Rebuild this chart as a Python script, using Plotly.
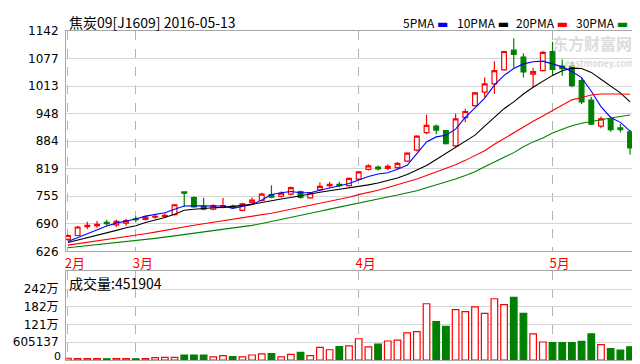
import plotly.graph_objects as go

# ---------------- data ----------------
idx = list(range(59))
open_ = [654, 663, 684, 686, 694, 688, 692, 702, 701, 706, 708, 712, 765, 752, 732, 725, 729, 732, 722, 740,
         745, 759, 755, 760, 766, 751, 770, 780, 783, 780, 795, 818, 823, 820, 822, 837, 863, 904, 919, 909,
         873, 939, 967, 999, 1018, 1051, 1097, 1081, 1041, 1049, 1094, 1060, 1060, 1026, 980, 919, 936, 915, 906]
high = [666, 685, 695, 697, 700, 700, 702, 708, 709, 713, 715, 737, 766, 755, 751, 736, 751, 735, 740, 752,
        763, 781, 766, 778, 768, 765, 788, 789, 789, 799, 814, 830, 827, 830, 835, 858, 898, 946, 923, 911,
        949, 960, 999, 1033, 1071, 1096, 1125, 1090, 1056, 1095, 1117, 1075, 1068, 1033, 988, 942, 942, 924, 910]
low = [650, 662, 678, 681, 686, 683, 686, 694, 698, 702, 704, 710, 730, 728, 722, 722, 727, 726, 720, 737,
       743, 750, 752, 757, 749, 749, 767, 775, 776, 778, 793, 815, 815, 816, 819, 835, 860, 900, 900, 876,
       869, 928, 965, 987, 995, 1049, 1056, 1033, 1010, 1047, 1037, 1037, 1010, 971, 922, 914, 906, 904, 853]
close = [663, 683, 687, 689, 691, 696, 698, 700, 706, 708, 710, 735, 762, 730, 725, 733, 733, 729, 737, 746,
         760, 753, 762, 775, 752, 763, 778, 783, 780, 797, 812, 826, 819, 825, 832, 856, 896, 921, 910, 878,
         936, 953, 997, 1018, 1049, 1094, 1087, 1046, 1047, 1092, 1052, 1054, 1014, 976, 924, 936, 911, 911, 868]
volume = [60000, 50000, 50000, 50000, 40000, 50000, 50000, 40000, 50000, 80000, 90000, 90000,
          170000, 170000, 170000, 110000, 150000, 120000, 110000, 170000, 210000, 220000, 110000, 190000,
          260000, 150000, 430000, 350000, 459000, 482000, 725000, 449000, 539000, 648000, 681000, 924000,
          971000, 1920000, 1310000, 1150000, 1720000, 1650000, 1810000, 1590000, 2090000, 1890000,
          2140000, 1590000, 891000, 615000, 592000, 592000, 592000, 637000, 891000, 526000, 393000,
          339000, 451904]

ma5 = [649, 658, 667, 676, 685.5, 692, 697, 701.6, 708.4, 713, 716.4, 724.4, 732, 732.5, 732.5, 732, 732,
       726.7, 731, 736, 746, 759, 763, 766, 763, 763, 769, 775, 779.4, 785, 793, 801, 807, 810, 818, 827.4,
       855, 882, 894, 898, 912, 939.5, 962, 985, 1015, 1038, 1054, 1065, 1070, 1071.5, 1065, 1058, 1047,
       1033, 1001, 965, 939.5, 928, 907.5]
ma10 = [646.6, 652, 658, 664, 669.5, 675, 681, 686, 693.5, 699, 705, 713, 722, 724.4, 726.7, 728, 729, 731.3,
        733.6, 736, 740.5, 745, 748.5, 752, 756.5, 760, 764.5, 768, 771.5, 773.6, 777, 781.6, 786, 791, 797.7,
        805.7, 816, 827, 841, 855, 869, 882, 898, 919, 939.5, 960, 976, 994.4, 1010.4, 1024, 1038, 1049,
        1055, 1054, 1045, 1029, 1013, 997, 976]
ma20 = [640.5, 643.7, 647, 650.3, 653.5, 657, 660.4, 663.4, 667.2, 671, 675.3, 679.2, 683.3, 687.2, 690.6,
        694, 697.5, 701, 704.3, 707.7, 710.7, 715.3, 720, 724.4, 729, 733.6, 738.2, 742.8, 747.3, 752.6,
        758.8, 763.3, 769, 775.5, 781.6, 788.5, 795.4, 803.4, 811.4, 819.4, 828.5, 839, 850.3, 861.7, 876.6,
        890.4, 903, 916.6, 930.4, 943, 955.5, 969.3, 980.7, 986.4, 992, 994.4, 995, 994.4, 993.7]
ma30 = [634.5, 636.8, 639.1, 641.4, 643.7, 646, 648.2, 650.5, 653.5, 656.3, 659.2, 662.2, 665.4, 668.4,
        671.4, 674.6, 677.5, 680.5, 683.7, 686.7, 691.3, 695.8, 700.6, 705.4, 710.2, 715.3, 719.9, 724.9,
        729.9, 735, 739.5, 744.1, 748.7, 753.3, 757.8, 762.6, 767.9, 774.8, 781.6, 787.4, 795.4, 803.4,
        812.5, 824, 835.4, 846.8, 857.1, 870.9, 882.3, 891.5, 902.9, 912, 920, 925.8, 930.4, 935, 938.4,
        941.8, 945.2]

month_pos = [0, 7, 30, 50]
month_labels = ["2月", "3月", "4月", "5月"]
price_ticks = [626, 690.5, 755, 819.5, 884, 948.5, 1013, 1077.5, 1142]
price_tick_labels = ["626", "690", "755", "819", "884", "948", "1013", "1077", "1142"]
vol_ticks = [605137, 1210274, 1815411, 2420548]
vol_tick_labels = ["605137", "121万", "182万", "242万"]
vol_zero_label = "0"
ma_names = ["5PMA", "10PMA", "20PMA", "30PMA"]
ma_colors = ["#0000ff", "#000000", "#ff0000", "#008000"]

title_text = "焦炭09[J1609] 2016-05-13"
vol_label = "成交量:451904"

RED = "#ff0000"
GREEN = "#008000"
GRID = "#d4d4d4"
VGRID = "#b4b4b4"
FRAME = "#a8a8a8"
FONT = "Noto Sans CJK SC, Noto Sans, DejaVu Sans"
NUMFONT = "DejaVu Sans, Noto Sans CJK SC"

fig = go.Figure()

# moving averages
for name, vals, col in zip(ma_names, [ma5, ma10, ma20, ma30], ma_colors):
    fig.add_trace(go.Scatter(x=idx, y=vals, mode="lines", line=dict(color=col, width=1.1),
                             name=name, xaxis="x", yaxis="y", hoverinfo="skip"))

fig.add_trace(go.Candlestick(
    x=idx, open=open_, high=high, low=low, close=close,
    increasing=dict(line=dict(color=RED, width=1.2), fillcolor="#ffffff"),
    decreasing=dict(line=dict(color=GREEN, width=1.2), fillcolor=GREEN),
    whiskerwidth=0, xaxis="x", yaxis="y", name="K"))

up = [c >= o for o, c in zip(open_, close)]
fig.add_trace(go.Bar(
    x=idx, y=volume, width=0.68, xaxis="x2", yaxis="y2",
    marker=dict(color=["#ffffff" if u else GREEN for u in up],
                line=dict(color=[RED if u else GREEN for u in up], width=1.2)),
    name="成交量"))

W, H = 640, 364
ML, MR, MT, MB = 57, 7, 23, 5
pw, ph = W - ML - MR, H - MT - MB


def px(x):
    return (x - ML) / pw


def py(y):
    return (H - MB - y) / ph


price_dom = [py(248), 1.0]
vol_dom = [0.0, py(268)]

xr = [-0.2, 59.13]
common_x = dict(range=xr, tickmode="array", tickvals=month_pos, showgrid=True, gridcolor=VGRID,
                griddash="dash", gridwidth=1, zeroline=False, showline=True, linecolor=FRAME,
                mirror=True, ticks="", fixedrange=True)

fig.update_layout(
    width=W, height=H, margin=dict(l=ML, r=MR, t=MT, b=MB, pad=0),
    paper_bgcolor="#ffffff", plot_bgcolor="#ffffff", showlegend=False,
    font=dict(family=FONT, size=12, color="#000000"),
    xaxis=dict(**common_x, ticktext=month_labels, showticklabels=True,
               tickfont=dict(color="#ff0000", size=13, family=FONT), ticklabelshift=7,
               anchor="y", rangeslider=dict(visible=False)),
    xaxis2=dict(**common_x, ticktext=month_labels, showticklabels=False, anchor="y2", matches="x"),
    yaxis=dict(domain=price_dom, range=[626, 1142], tickmode="array", tickvals=price_ticks,
               ticktext=price_tick_labels, showgrid=True, gridcolor=GRID, zeroline=False,
               showline=True, linecolor=FRAME, mirror=True, ticks="", ticklabelstandoff=4,
               tickfont=dict(size=12, family=NUMFONT), fixedrange=True),
    yaxis2=dict(domain=vol_dom, range=[0, 3.04e6], tickmode="array", tickvals=vol_ticks,
                ticktext=vol_tick_labels, showgrid=True, gridcolor=GRID, zeroline=False,
                showline=True, linecolor=FRAME, mirror=True, ticks="", ticklabelstandoff=4,
                tickfont=dict(size=12, family=NUMFONT), fixedrange=True),
)

ann = []
ann.append(dict(text=title_text, x=px(58), y=py(14), xref="paper", yref="paper", xanchor="left",
                yanchor="middle", showarrow=False, font=dict(size=14, color="#000000")))
leg_x = [393, 447, 506, 566]
for name, col, lx in zip(ma_names, ma_colors, leg_x):
    ann.append(dict(text=name + " <span style='color:%s'>▬</span>" % col, x=px(lx), y=py(14),
                    xref="paper", yref="paper", xanchor="left", yanchor="middle", showarrow=False,
                    font=dict(size=12, color="#000000")))
ann.append(dict(text=vol_label, x=px(58), y=py(280), xref="paper", yref="paper", xanchor="left",
                yanchor="middle", showarrow=False, font=dict(size=14, color="#000000")))
ann.append(dict(text=vol_zero_label, x=px(53), y=py(355.5), xref="paper", yref="paper", xanchor="right",
                yanchor="middle", showarrow=False, borderpad=0,
                font=dict(size=11, color="#000000", family="DejaVu Sans")))
# watermark
ann.append(dict(text="<b>东方财富网</b>", x=px(584), y=py(35), xref="paper", yref="paper",
                xanchor="center", yanchor="middle", showarrow=False, borderpad=0,
                font=dict(size=16, color="#dcdcdc")))
ann.append(dict(text="<b>eastmoney.com</b>", x=px(592), y=py(56), xref="paper", yref="paper",
                xanchor="center", yanchor="middle", showarrow=False, borderpad=0,
                font=dict(size=9, color="#dcdcdc")))
fig.update_layout(annotations=ann)

fig.write_html("out.html")
